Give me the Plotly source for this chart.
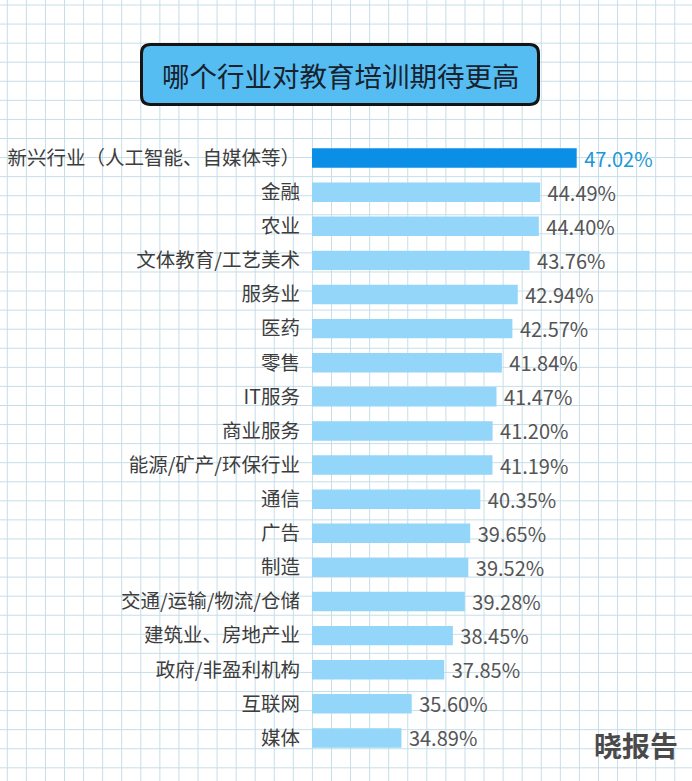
import plotly.graph_objects as go

W, H = 692, 781

categories = ["新兴行业（人工智能、自媒体等）", "金融", "农业", "文体教育/工艺美术", "服务业", "医药",
              "零售", "IT服务", "商业服务", "能源/矿产/环保行业", "通信", "广告", "制造",
              "交通/运输/物流/仓储", "建筑业、房地产业", "政府/非盈利机构", "互联网", "媒体"]
values = [47.02, 44.49, 44.40, 43.76, 42.94, 42.57, 41.84, 41.47, 41.20, 41.19, 40.35,
          39.65, 39.52, 39.28, 38.45, 37.85, 35.60, 34.89]
title_text = "哪个行业对教育培训期待更高"
watermark = "晓报告"

HIGHLIGHT = "#0b8fe6"
NORMAL = "#93d6f9"
bar_colors = [HIGHLIGHT if i == 0 else NORMAL for i in range(len(values))]
text_colors = ["#1a98d8" if i == 0 else "#555555" for i in range(len(values))]

FONT = "Noto Sans CJK SC"

# plot-area geometry (pixels)
ML, MR, MT, MB = 312, 0, 141, 26
PW, PH = W - ML - MR, H - MT - MB

def px(x):
    return (x - ML) / PW

def py(y):
    return 1 - (y - MT) / PH

fig = go.Figure()
fig.add_trace(go.Bar(
    y=categories, x=values, orientation="h",
    marker=dict(color=bar_colors, line=dict(width=0)),
    texttemplate="\u00a0%{x:.2f}%", textposition="outside",
    textfont=dict(family=FONT, size=20, color=text_colors),
    constraintext="none", cliponaxis=True, hoverinfo="skip",
))

# background grid paper
shapes = []
step = 19.07
gx = 7.3
while gx < W:
    shapes.append(dict(type="line", xref="paper", yref="paper", x0=px(gx), x1=px(gx), y0=py(0), y1=py(H),
                       line=dict(color="#c6dee8", width=1), layer="below"))
    gx += step
gy = 5.0
while gy < H:
    shapes.append(dict(type="line", xref="paper", yref="paper", x0=px(0), x1=px(W), y0=py(gy), y1=py(gy),
                       line=dict(color="#c6dee8", width=1), layer="below"))
    gy += step

# rounded title box
bx0, bx1, by0, by1, r = 141.5, 538.5, 44.5, 104.5, 9
path = (f"M {px(bx0 + r)},{py(by0)} L {px(bx1 - r)},{py(by0)} Q {px(bx1)},{py(by0)} {px(bx1)},{py(by0 + r)} "
        f"L {px(bx1)},{py(by1 - r)} Q {px(bx1)},{py(by1)} {px(bx1 - r)},{py(by1)} "
        f"L {px(bx0 + r)},{py(by1)} Q {px(bx0)},{py(by1)} {px(bx0)},{py(by1 - r)} "
        f"L {px(bx0)},{py(by0 + r)} Q {px(bx0)},{py(by0)} {px(bx0 + r)},{py(by0)} Z")
shapes.append(dict(type="path", xref="paper", yref="paper", path=path,
                   fillcolor="#56bdf3", line=dict(color="#141414", width=3), layer="above"))

annotations = [
    dict(text=title_text, xref="paper", yref="paper", x=px(341), y=py(75), showarrow=False,
         xanchor="center", yanchor="middle", font=dict(family=FONT, size=27.5, color="#17222e")),
    dict(text=f"<b>{watermark}</b>", xref="paper", yref="paper", x=px(680), y=py(745), showarrow=False,
         xanchor="right", yanchor="middle", font=dict(family=FONT, size=28, color="#4a4a4a")),
]

fig.update_layout(
    width=W, height=H,
    margin=dict(l=ML, r=MR, t=MT, b=MB, pad=0),
    paper_bgcolor="white", plot_bgcolor="rgba(0,0,0,0)",
    showlegend=False, bargap=0.43,
    shapes=shapes, annotations=annotations,
    xaxis=dict(range=[28.7, 55.0], visible=False, fixedrange=True),
    yaxis=dict(autorange="reversed", showgrid=False, zeroline=False, showline=False, ticks="",
               tickfont=dict(family=FONT, size=19.5, color="#3d3d3d"), ticklabelstandoff=11,
               fixedrange=True),
)

fig.write_html("out.html", config={"displayModeBar": False})
